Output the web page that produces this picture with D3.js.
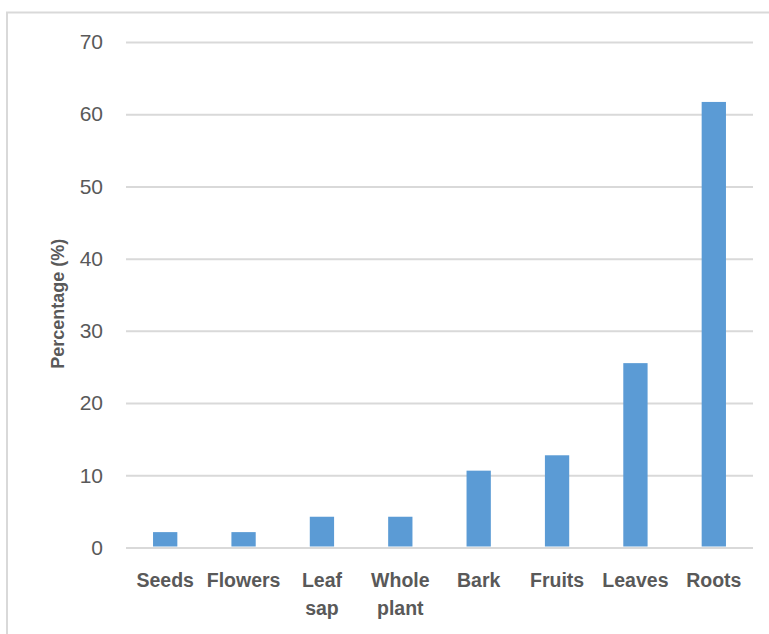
<!DOCTYPE html>
<html>
<head>
<meta charset="utf-8">
<script src="https://cdn.jsdelivr.net/npm/d3@7"></script>
<style>
  html, body { margin: 0; padding: 0; background: #fff; }
  svg { display: block; }
</style>
</head>
<body>
<svg id="chart" width="769" height="634"></svg>
<script>
// Plant parts used, share of preparations (%)
const categories = [["Seeds"], ["Flowers"], ["Leaf", "sap"], ["Whole", "plant"], ["Bark"], ["Fruits"], ["Leaves"], ["Roots"]];
const values = [2.13, 2.13, 4.26, 4.26, 10.64, 12.77, 25.53, 61.70];
const yTicks = [0, 10, 20, 30, 40, 50, 60, 70];
const yTitle = "Percentage (%)";

const svg = d3.select("#chart");
const W = 769, H = 634;
const plot = { left: 126, right: 753, top: 42, bottom: 547.5 };

// Chart frame
svg.append("rect")
  .attr("x", 7).attr("y", 12.5)
  .attr("width", W + 10).attr("height", H + 10)
  .attr("fill", "none").attr("stroke", "#d9d9d9").attr("stroke-width", 2);

const keys = categories.map(c => c.join(" "));
const x = d3.scaleBand().domain(keys).range([plot.left, plot.right]).padding(0);
const y = d3.scaleLinear().domain([0, 70]).range([plot.bottom, plot.top]);

// Gridlines + y tick labels
const yAxis = d3.axisLeft(y).tickValues(yTicks).tickSize(-(plot.right - plot.left)).tickPadding(23);
const gy = svg.append("g").attr("transform", `translate(${plot.left},0)`).call(yAxis);
gy.select(".domain").remove();
gy.selectAll(".tick line").attr("stroke", "#d9d9d9").attr("stroke-width", 2);
gy.selectAll(".tick text")
  .attr("fill", "#595959")
  .style("font-family", "'Liberation Sans', Arial, sans-serif")
  .style("font-size", "21px");

// Bars
const barW = x.bandwidth() * 0.31;
svg.append("g").selectAll("rect")
  .data(values)
  .join("rect")
  .attr("x", (d, i) => x(keys[i]) + (x.bandwidth() - barW) / 2)
  .attr("y", d => y(d))
  .attr("width", barW)
  .attr("height", d => y(0) - y(d) - 1)
  .attr("fill", "#5b9bd5");

// Category labels (wrapped)
const gx = svg.append("g");
categories.forEach((lines, i) => {
  const t = gx.append("text")
    .attr("x", x(keys[i]) + x.bandwidth() / 2)
    .attr("y", 587)
    .attr("text-anchor", "middle")
    .attr("fill", "#595959")
    .style("font-family", "'Liberation Sans', Arial, sans-serif")
    .style("font-weight", "bold")
    .style("font-size", "19.5px");
  lines.forEach((ln, j) => {
    t.append("tspan").attr("x", x(keys[i]) + x.bandwidth() / 2).attr("dy", j === 0 ? 0 : 28).text(ln);
  });
});

// Y axis title
svg.append("text")
  .attr("transform", `translate(64,${(plot.top + plot.bottom) / 2 + 9}) rotate(-90)`)
  .attr("text-anchor", "middle")
  .attr("fill", "#595959")
  .style("font-family", "'Liberation Sans', Arial, sans-serif")
  .style("font-weight", "bold")
  .style("font-size", "18px")
  .text(yTitle);
</script>
</body>
</html>
